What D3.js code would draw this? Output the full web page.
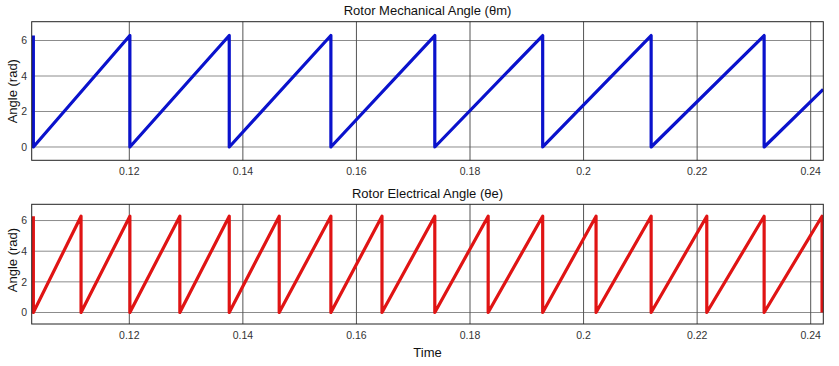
<!DOCTYPE html>
<html>
<head>
<meta charset="utf-8">
<script src="https://cdn.jsdelivr.net/npm/d3@7/dist/d3.min.js"></script>
<style>
  html, body { margin: 0; padding: 0; background: #fff; }
  svg { display: block; font-family: "Liberation Sans", Arial, sans-serif; }
</style>
</head>
<body>
<svg id="chart" width="839" height="366"></svg>
<script>
// ---- Data ----
const xTicks = [0.12, 0.14, 0.16, 0.18, 0.2, 0.22, 0.24];
const xTickLabels = ["0.12", "0.14", "0.16", "0.18", "0.2", "0.22", "0.24"];
const yTicks = [0, 2, 4, 6];
const yTickLabels = ["0", "2", "4", "6"];

// Rotor mechanical angle (rad) vs time (s): sawtooth vertices
const mechTime  = [0.1031, 0.1031, 0.1201, 0.1201, 0.1376, 0.1376, 0.1555, 0.1555,
                   0.1738, 0.1738, 0.1928, 0.1928, 0.2119, 0.2119, 0.2318, 0.2318, 0.2422];
const mechAngle = [6.28, 0, 6.28, 0, 6.28, 0, 6.28, 0,
                   6.28, 0, 6.28, 0, 6.28, 0, 6.28, 0, 3.25];

// Rotor electrical angle (rad) vs time (s): sawtooth vertices
const elecTime  = [0.1031, 0.1031, 0.1115, 0.1115, 0.1201, 0.1201, 0.1289, 0.1289,
                   0.1376, 0.1376, 0.1464, 0.1464, 0.1555, 0.1555, 0.1645, 0.1645,
                   0.1738, 0.1738, 0.1832, 0.1832, 0.1928, 0.1928, 0.2022, 0.2022,
                   0.2119, 0.2119, 0.2217, 0.2217, 0.2318, 0.2318, 0.2420, 0.2420];
const elecAngle = [6.28, 0, 6.28, 0, 6.28, 0, 6.28, 0,
                   6.28, 0, 6.28, 0, 6.28, 0, 6.28, 0,
                   6.28, 0, 6.28, 0, 6.28, 0, 6.28, 0,
                   6.28, 0, 6.28, 0, 6.28, 0, 6.28, 0];

const titles = ["Rotor Mechanical Angle (\u03B8m)", "Rotor Electrical Angle (\u03B8e)"];
const yLabel = "Angle (rad)";
const xLabel = "Time";

// ---- Layout ----
const svg = d3.select("#chart");
const xDomain = [0.10281, 0.24222];
const yDomain = [-0.75, 7.06];
const left = 31.7, right = 823.3;

const panels = [
  { top: 21.7, bottom: 160.3, t: mechTime, v: mechAngle, color: "#0a12cc", title: titles[0], ylabY: 91.2 },
  { top: 204.3, bottom: 324, t: elecTime, v: elecAngle, color: "#e01414", title: titles[1], ylabY: 260 }
];

const x = d3.scaleLinear().domain(xDomain).range([left, right]);

panels.forEach((p, i) => {
  const y = d3.scaleLinear().domain(yDomain).range([p.bottom, p.top]);
  const g = svg.append("g");

  g.append("rect").attr("x", left).attr("y", p.top)
    .attr("width", right - left).attr("height", p.bottom - p.top)
    .attr("fill", "#fff");

  // grid
  g.append("g").selectAll("line").data(yTicks).join("line")
    .attr("x1", left).attr("x2", right)
    .attr("y1", d => y(d)).attr("y2", d => y(d))
    .attr("stroke", "#8c8c8c").attr("stroke-width", 1);
  g.append("g").selectAll("line").data(xTicks).join("line")
    .attr("x1", d => x(d)).attr("x2", d => x(d))
    .attr("y1", p.top).attr("y2", p.bottom)
    .attr("stroke", "#555").attr("stroke-width", 1);

  // clip
  const cid = "clip" + i;
  svg.append("clipPath").attr("id", cid).append("rect")
    .attr("x", left).attr("y", p.top - 2)
    .attr("width", right - left).attr("height", p.bottom - p.top + 4);

  const pts = p.t.map((t, k) => [t, p.v[k]]);
  const line = d3.line().x(d => x(d[0])).y(d => y(d[1]));
  g.append("path").datum(pts)
    .attr("clip-path", `url(#${cid})`)
    .attr("d", line)
    .attr("fill", "none")
    .attr("stroke", p.color)
    .attr("stroke-width", 3.2)
    .attr("stroke-linejoin", "round");

  // frame
  g.append("rect").attr("x", left).attr("y", p.top)
    .attr("width", right - left).attr("height", p.bottom - p.top)
    .attr("fill", "none").attr("stroke", "#222").attr("stroke-width", 1);

  // y tick labels
  g.append("g").selectAll("text").data(yTicks).join("text")
    .attr("x", left - 4.5).attr("y", d => y(d))
    .attr("dy", "0.35em")
    .attr("text-anchor", "end")
    .attr("font-size", 10.5).attr("fill", "#333")
    .text((d, k) => yTickLabels[k]);

  // x tick labels
  g.append("g").selectAll("text").data(xTicks).join("text")
    .attr("x", d => x(d)).attr("y", p.bottom + 14.8)
    .attr("text-anchor", "middle")
    .attr("font-size", 10.5).attr("fill", "#333")
    .text((d, k) => xTickLabels[k]);

  // title
  g.append("text").attr("x", (left + right) / 2).attr("y", p.top - 6.5)
    .attr("text-anchor", "middle").attr("font-size", 13).attr("fill", "#111")
    .text(p.title);

  // y label
  g.append("text")
    .attr("transform", `translate(17.3,${p.ylabY}) rotate(-90)`)
    .attr("text-anchor", "middle").attr("font-size", 13).attr("fill", "#111")
    .text(yLabel);
});

svg.append("text").attr("x", (left + right) / 2).attr("y", 356.7)
  .attr("text-anchor", "middle").attr("font-size", 13).attr("fill", "#111")
  .text(xLabel);
</script>
</body>
</html>
